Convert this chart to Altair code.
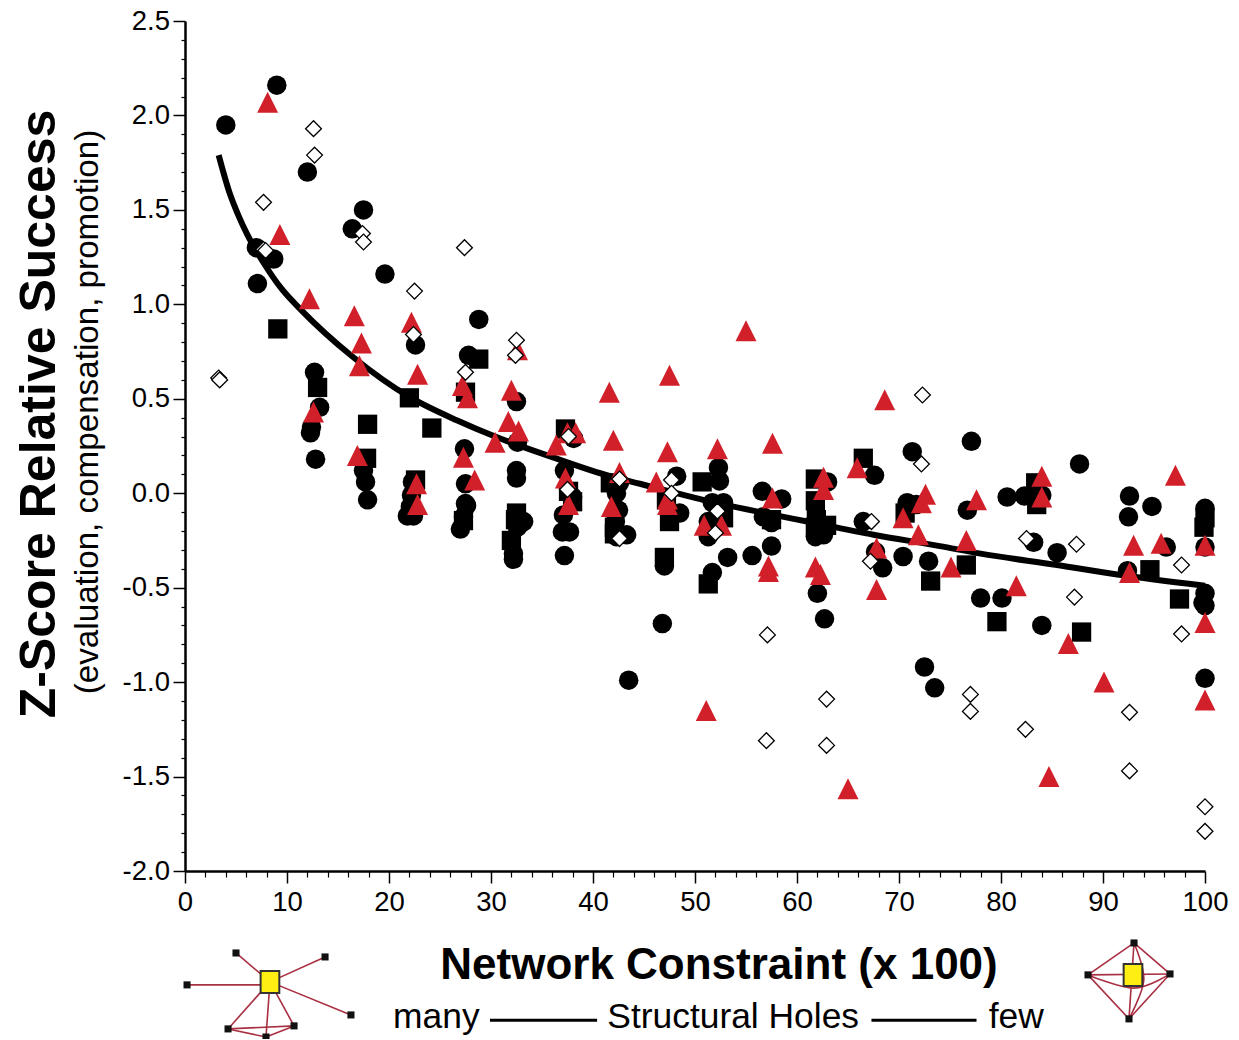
import altair as alt
import pandas as pd

# ---- scatter values ------------------------------------------------------
circle_x = [4.0,9.0,12.0,17.5,16.4,19.6,7.0,8.7,7.1,22.6,28.8,27.8,12.7,13.2,12.4,12.3,12.8,17.5,17.7,17.9,
            22.3,22.2,21.8,22.4,22.1,32.5,27.4,27.5,27.5,27.6,27.0,27.3,32.6,32.5,32.5,33.2,32.6,32.2,32.2,
            38.1,37.2,38.0,37.1,37.0,37.7,37.2,42.6,42.3,42.5,42.2,43.3,42.3,43.5,
            48.2,48.5,47.0,46.8,52.3,52.4,51.7,52.8,51.3,51.3,53.2,51.7,55.6,56.6,58.5,57.5,57.5,56.7,
            62.0,62.7,61.8,62.6,63.0,67.6,71.3,66.5,67.7,68.4,70.4,72.9,70.8,71.7,72.5,73.5,
            77.1,87.7,80.6,82.3,84.0,76.7,83.2,85.5,92.6,92.5,94.8,92.4,96.2,100,100,100,99.8,100,100,
            78.0,80.1,84.0]
circle_y = [1.95,2.16,1.70,1.50,1.40,1.16,1.30,1.24,1.11,0.785,0.92,0.73,0.64,0.455,0.35,0.32,0.18,0.12,0.06,-0.035,
            0.06,-0.01,-0.12,-0.12,-0.07,0.485,0.235,0.05,-0.055,-0.065,-0.19,-0.125,0.27,0.12,0.08,-0.15,-0.18,-0.32,-0.35,
            0.29,0.12,-0.02,-0.115,-0.205,-0.205,-0.33,0.055,0.0,-0.09,-0.15,-0.22,-0.23,-0.99,
            0.09,-0.105,-0.385,-0.69,0.135,0.065,-0.05,-0.05,-0.15,-0.23,-0.34,-0.42,-0.33,0.01,-0.03,-0.28,-0.155,-0.125,
            -0.53,-0.665,-0.23,-0.22,0.06,0.095,0.22,-0.15,-0.31,-0.395,-0.335,-0.36,-0.05,-0.06,-0.92,-1.03,
            0.275,0.155,-0.02,-0.015,-0.01,-0.09,-0.26,-0.315,-0.015,-0.125,-0.07,-0.41,-0.285,-0.08,-0.285,-0.53,-0.58,-0.595,-0.98,
            -0.555,-0.555,-0.70]

square_x = [9.1,13.0,17.9,17.8,22.0,24.2,22.6,28.8,27.5,27.3,32.5,32.4,32.0,37.3,37.6,38.0,41.7,42.1,42.1,
            50.7,47.5,47.0,47.2,51.3,52.8,57.5,61.8,61.8,61.9,61.8,62.9,66.5,70.6,73.1,
            76.6,79.6,83.4,83.5,87.9,94.6,97.5,100,99.9]
square_y = [0.87,0.56,0.365,0.185,0.505,0.345,0.07,0.71,0.535,-0.145,-0.105,-0.14,-0.25,0.34,0.01,-0.045,0.055,-0.18,-0.215,
            0.06,-0.15,-0.34,-0.035,-0.48,-0.13,-0.14,0.075,-0.04,-0.14,-0.18,-0.17,0.185,-0.105,-0.465,
            -0.38,-0.68,0.055,-0.06,-0.735,-0.405,-0.56,-0.13,-0.18]

triangle_x = [8.1,9.3,12.2,16.6,17.3,22.2,32.6,17.1,22.8,12.6,27.2,27.7,32.0,31.7,32.7,30.4,36.4,37.5,38.3,41.6,42.0,
              16.9,27.3,28.4,22.7,22.8,37.3,37.6,42.6,41.8,47.3,46.2,47.3,47.3,52.2,50.9,52.6,57.6,57.6,57.2,57.2,
              61.8,62.3,62.6,62.6,65.9,67.8,67.8,70.4,72.6,72.2,71.9,55.0,47.5,68.6,
              77.6,76.6,75.1,81.5,84.0,84.0,86.6,90.1,97.1,93.0,95.7,92.6,100,100,100,84.7,65.0,51.1]
triangle_y = [2.07,1.37,1.03,0.94,0.795,0.905,0.76,0.675,0.63,0.43,0.57,0.505,0.545,0.38,0.33,0.27,0.255,0.32,0.32,0.535,0.28,
              0.2,0.19,0.07,0.05,-0.06,0.08,-0.06,0.11,-0.07,0.22,0.06,-0.03,-0.06,0.235,-0.17,-0.17,0.265,-0.025,-0.385,-0.415,
              -0.39,-0.43,0.085,0.02,0.135,-0.29,-0.51,-0.13,-0.005,-0.05,-0.22,0.86,0.625,0.495,
              -0.035,-0.25,-0.39,-0.49,0.09,-0.02,-0.795,-1.0,0.095,-0.275,-0.265,-0.42,-0.275,-0.685,-1.095,-1.5,-1.565,-1.15]

diamond_x = [3.3,3.4,12.6,12.7,7.7,7.7,7.9,17.4,17.5,27.4,22.5,22.4,32.5,32.4,27.5,37.6,37.5,42.6,42.6,47.7,47.7,
             52.2,52.0,72.3,72.2,67.3,67.2,82.5,87.4,87.2,97.7,97.7,57.1,57.0,62.9,62.9,77.0,77.0,82.4,92.6,92.6,100,100]
diamond_y = [0.61,0.60,1.93,1.79,1.54,1.29,1.285,1.375,1.33,1.30,1.07,0.84,0.81,0.73,0.64,0.30,0.02,0.075,-0.24,0.07,0.0,
             -0.095,-0.21,0.52,0.155,-0.15,-0.36,-0.24,-0.27,-0.55,-0.38,-0.745,-0.75,-1.31,-1.09,-1.335,-1.065,-1.155,-1.25,-1.16,-1.47,-1.66,-1.79]

curve_x = [3.3,4.4,5.2,6.1,7.7,9.5,11.3,16.5,22.0,26.7,30.4,35.8,41.7,44.6,50.8,56.4,61.0,67.5,74.0,78.0,85.5,91.4,100.0]
curve_y = [1.79,1.585,1.475,1.37,1.22,1.08,0.975,0.72,0.51,0.385,0.30,0.195,0.09,0.05,-0.035,-0.10,-0.15,-0.22,-0.28,-0.32,-0.38,-0.43,-0.49]

# ---- axis ticks ----------------------------------------------------------
x_major = [0,10,20,30,40,50,60,70,80,90,100]
x_minor = [2,4,6,8,12,14,16,18,22,24,26,28,32,34,36,38,42,44,46,48,52,54,56,58,
           62,64,66,68,72,74,76,78,82,84,86,88,92,94,96,98]
y_major = [-2.0,-1.5,-1.0,-0.5,0.0,0.5,1.0,1.5,2.0,2.5]
y_minor = [-1.9,-1.8,-1.7,-1.6,-1.4,-1.3,-1.2,-1.1,-0.9,-0.8,-0.7,-0.6,-0.4,-0.3,-0.2,-0.1,
           0.1,0.2,0.3,0.4,0.6,0.7,0.8,0.9,1.1,1.2,1.3,1.4,1.6,1.7,1.8,1.9,2.1,2.2,2.3,2.4]

# ---- network icons below the axis ----------------------------------------
hub_x = [8.33, 92.94]
hub_y = [-2.587, -2.55]
node_x = [5.0,13.73,0.2,16.27,4.22,10.69,7.94, 93.04,88.53,96.57,92.55]
node_y = [-2.434,-2.455,-2.603,-2.762,-2.836,-2.82,-2.879, -2.381,-2.55,-2.545,-2.783]
edges = [
    [(8.33,-2.587),(5.0,-2.434)],[(8.33,-2.587),(13.73,-2.455)],[(8.33,-2.603),(0.2,-2.603)],
    [(8.33,-2.587),(16.27,-2.762)],[(8.33,-2.587),(4.22,-2.836)],[(8.33,-2.587),(10.69,-2.82)],
    [(8.33,-2.587),(7.94,-2.879)],[(4.22,-2.836),(10.69,-2.82)],[(4.22,-2.836),(7.94,-2.879)],
    [(10.69,-2.82),(7.94,-2.879)],
    [(93.04,-2.381),(88.53,-2.55)],[(93.04,-2.381),(96.57,-2.545)],[(92.55,-2.783),(88.53,-2.55)],
    [(92.55,-2.783),(96.57,-2.545)],[(93.04,-2.381),(92.55,-2.783)],[(88.53,-2.55),(96.57,-2.545)],
    [(96.57,-2.545),(93.04,-2.62),(88.53,-2.55)],[(93.04,-2.381),(94.0,-2.577),(92.55,-2.783)],
]
edge_rows = [{"edge": i, "step": j, "x": p[0], "y": p[1]} for i, e in enumerate(edges) for j, p in enumerate(e)]

caption_text = ["many", "Structural Holes", "few"]
caption_x = [20.4, 41.4, 78.8]
caption_y = [-2.83, -2.83, -2.83]
dash_x = [29.9, 67.3]
dash_x2 = [40.4, 77.6]
dash_y = [-2.79, -2.79]

FONT = "Liberation Sans"
xs = alt.Scale(domain=[0, 100], nice=False, zero=False)
ys = alt.Scale(domain=[-2.0, 2.5], nice=False, zero=False)
X = alt.X("x:Q", scale=xs, axis=None)
Y = alt.Y("y:Q", scale=ys, axis=None)


def table(a, b):
    return pd.DataFrame({"x": a, "y": b})


circles = alt.Chart(table(circle_x, circle_y)).mark_point(
    shape="circle", filled=True, color="black", size=380, opacity=1, strokeWidth=0).encode(x=X, y=Y)
squares = alt.Chart(table(square_x, square_y)).mark_point(
    shape="square", filled=True, color="black", size=372, opacity=1, strokeWidth=0).encode(x=X, y=Y)
curve = alt.Chart(table(curve_x, curve_y)).mark_line(
    color="black", strokeWidth=6, interpolate="monotone", clip=False).encode(
    x=X, y=Y, order="x:Q")
triangles = alt.Chart(table(triangle_x, triangle_y)).mark_point(
    shape="M0,-1L-1,1L1,1Z", filled=True, color="#D2202A", size=440, opacity=1, strokeWidth=0).encode(x=X, y=Y)
diamonds = alt.Chart(table(diamond_x, diamond_y)).mark_point(
    shape="diamond", filled=True, fill="white", stroke="black", strokeWidth=1.3, size=250, opacity=1).encode(x=X, y=Y)

# axes: one invisible layer for the long ticks and labels, one for the short ticks
major_axes = alt.Chart(table([0], [0])).mark_point(opacity=0).encode(
    x=alt.X("x:Q", scale=xs, axis=alt.Axis(
        orient="bottom", values=x_major, format="d", grid=False, tickSize=12, tickWidth=1.5, tickColor="black",
        domainColor="black", domainWidth=2.5, labelFont=FONT, labelFontSize=27.5, labelColor="black", labelPadding=5,
        labelFlush=False, labelOverlap=False, title="Network Constraint (x 100)", titleFont=FONT, titleFontSize=44,
        titleFontWeight="bold", titleColor="black", titleX=533.5, titleY=94, titleBaseline="middle", titleAlign="center")),
    y=alt.Y("y:Q", scale=ys, axis=alt.Axis(
        orient="left", values=y_major, grid=False, tickSize=12, tickWidth=1.5, tickColor="black",
        domainColor="black", domainWidth=2.5, labelFont=FONT, labelFontSize=27.5, labelColor="black", labelPadding=3.5,
        labelFlush=False, labelOverlap=False,
        labelExpr="replace(format(datum.value,'.1f'),'\u2212','-')",
        title="Z-Score Relative Success", titleFont=FONT, titleFontSize=50, titleFontWeight="bold", titleColor="black",
        titleX=-146, titleY=392.5, titleAngle=270, titleBaseline="middle", titleAlign="center")),
)
minor_axes = alt.Chart(table([0], [0])).mark_point(opacity=0).encode(
    x=alt.X("x:Q", scale=xs, axis=alt.Axis(
        orient="bottom", values=x_minor, grid=False, labels=False, domain=False, tickSize=6, tickWidth=1.2,
        tickColor="black", title=None)),
    y=alt.Y("y:Q", scale=ys, axis=alt.Axis(
        orient="left", values=y_minor, grid=False, labels=False, domain=False, tickSize=4, tickWidth=1.2,
        tickColor="black", title=None)),
)

subtitle = alt.Chart(pd.DataFrame({"t": ["(evaluation, compensation, promotion)"]})).mark_text(
    font=FONT, fontSize=33.2, angle=270, align="center", baseline="middle", color="black").encode(
    text="t:N", x=alt.value(-97), y=alt.value(391))

captions = alt.Chart(pd.DataFrame({"x": caption_x, "y": caption_y, "t": caption_text})).mark_text(
    font=FONT, fontSize=35.4, align="left", baseline="alphabetic", color="black").encode(x=X, y=Y, text="t:N")
dashes = alt.Chart(pd.DataFrame({"x": dash_x, "x2": dash_x2, "y": dash_y})).mark_rule(
    color="black", strokeWidth=3).encode(x=X, x2="x2:Q", y=Y)

edge_lines = alt.Chart(pd.DataFrame(edge_rows)).mark_line(
    color="#A92F42", strokeWidth=1.6, interpolate="cardinal").encode(
    x=X, y=Y, detail="edge:N", order="step:Q")
nodes = alt.Chart(table(node_x, node_y)).mark_point(
    shape="square", filled=True, color="#111111", size=50, opacity=1, strokeWidth=0).encode(x=X, y=Y)
hubs = alt.Chart(table(hub_x, hub_y)).mark_point(
    shape="M-0.85,-1L0.85,-1L0.85,1L-0.85,1Z", filled=True, fill="#FFEE12", stroke="#333333",
    strokeWidth=2, size=484, opacity=1).encode(x=X, y=Y)

chart = alt.layer(
    major_axes, minor_axes, circles, squares, curve, triangles, diamonds,
    subtitle, dashes, captions, edge_lines, nodes, hubs,
).resolve_axis(x="independent", y="independent").properties(
    width=1020, height=850,
    autosize=alt.AutoSizeParams(type="none"),
    padding={"left": 177, "top": 13, "right": 26, "bottom": 168},
    background="white",
).configure_view(stroke=None)

chart.save("out.html", embed_options={"renderer": "svg", "actions": False})
